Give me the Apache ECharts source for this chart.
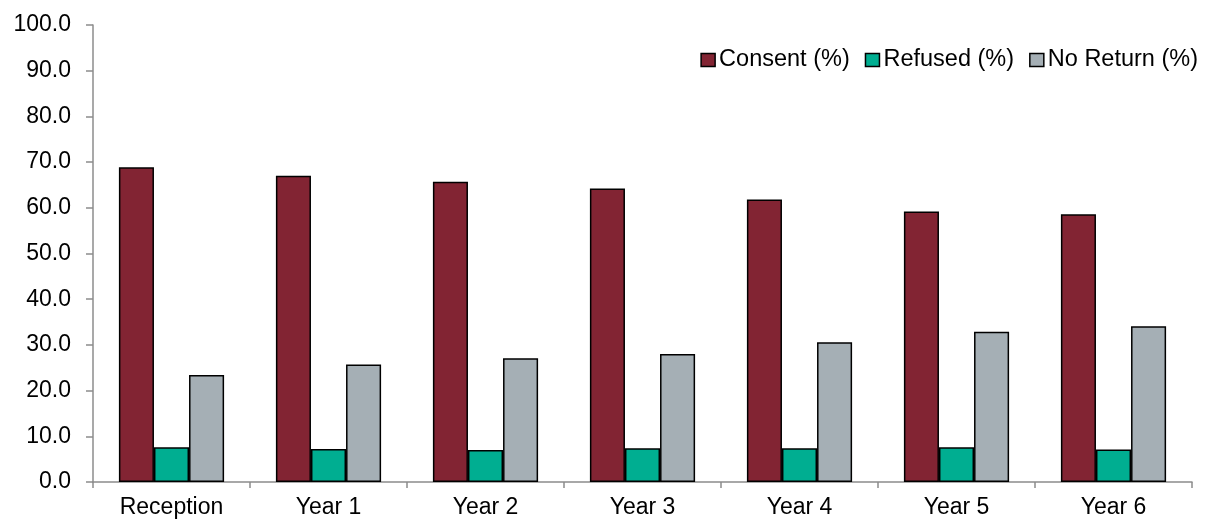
<!DOCTYPE html>
<html>
<head>
<meta charset="utf-8">
<script src="https://cdn.jsdelivr.net/npm/echarts@6/dist/echarts.min.js"></script>
<style>
  html, body { margin: 0; padding: 0; background: #ffffff; }
  #chart { width: 1207px; height: 520px; }
</style>
</head>
<body>
<div id="chart"></div>
<script>
// Year groups along the x axis
const categories = ['Reception', 'Year 1', 'Year 2', 'Year 3', 'Year 4', 'Year 5', 'Year 6'];

// Percentages per year group
const consent = [68.9, 67.0, 65.7, 64.2, 61.8, 59.2, 58.6];
const refused = [7.6, 7.2, 7.0, 7.4, 7.4, 7.6, 7.1];
const noReturn = [23.4, 25.7, 27.1, 28.0, 30.6, 32.9, 34.1];

const seriesNames = ['Consent (%)', 'Refused (%)', 'No Return (%)'];
const seriesColors = ['#822433', '#00AE91', '#A5AFB5'];

const font = 'Liberation Sans, Arial, sans-serif';
const axisGrey = '#8c8c8c';

const chart = echarts.init(document.getElementById('chart'), null, { renderer: 'canvas' });

function barSeries(name, data, color) {
  return {
    name: name,
    type: 'bar',
    data: data,
    barGap: '0%',
    barCategoryGap: '33%',
    itemStyle: { color: color, borderColor: '#000000', borderWidth: 1.5 },
    emphasis: { disabled: true }
  };
}

chart.setOption({
  animation: false,
  textStyle: { fontFamily: font },
  legend: {
    top: 43,
    right: 4,
    itemWidth: 14,
    itemHeight: 13,
    itemGap: 15,
    icon: 'rect',
    textStyle: { fontSize: 23.5, color: '#000000', fontFamily: font, padding: [0, 0, 0, -1] },
    data: seriesNames.map((n, i) => ({
      name: n,
      itemStyle: { color: seriesColors[i], borderColor: '#000000', borderWidth: 1.5 }
    }))
  },
  grid: { left: 93, right: 15, top: 25, bottom: 38, containLabel: false },
  xAxis: {
    type: 'category',
    data: categories,
    axisLine: { lineStyle: { color: axisGrey, width: 1.5 } },
    axisTick: { show: true, length: 6, lineStyle: { color: axisGrey, width: 1.5 } },
    axisLabel: { fontSize: 23, color: '#000000', margin: 14, fontFamily: font },
    splitLine: { show: false }
  },
  yAxis: {
    type: 'value',
    min: 0,
    max: 100,
    interval: 10,
    axisLine: { show: true, lineStyle: { color: axisGrey, width: 1.5 } },
    axisTick: { show: true, length: 7, lineStyle: { color: axisGrey, width: 1.5 } },
    axisLabel: {
      fontSize: 23,
      color: '#000000',
      margin: 22,
      fontFamily: font,
      formatter: v => v.toFixed(1)
    },
    splitLine: { show: false }
  },
  series: [
    barSeries(seriesNames[0], consent, seriesColors[0]),
    barSeries(seriesNames[1], refused, seriesColors[1]),
    barSeries(seriesNames[2], noReturn, seriesColors[2])
  ]
});
</script>
</body>
</html>
